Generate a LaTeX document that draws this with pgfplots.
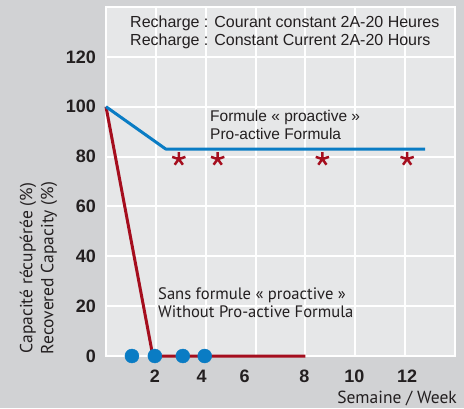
\documentclass[border=0pt]{standalone}
\usepackage{fontspec}
\setmainfont{Liberation Sans}
\newfontfamily\myriad{PT Sans}
\usepackage{pgfplots}
\pgfplotsset{compat=1.18}
\definecolor{bgout}{HTML}{D1D2D4}
\definecolor{bgin}{HTML}{E6E7E8}
\definecolor{cblue}{HTML}{0A7CC4}
\definecolor{cred}{HTML}{A50E1E}
\definecolor{ctext}{HTML}{231F20}
\pgfdeclareplotmark{ast5}{%
  \pgfpathmoveto{\pgfpointorigin}\pgfpathlineto{\pgfpointpolar{90}{\pgfplotmarksize}}%
  \pgfpathmoveto{\pgfpointorigin}\pgfpathlineto{\pgfpointpolar{18}{\pgfplotmarksize}}%
  \pgfpathmoveto{\pgfpointorigin}\pgfpathlineto{\pgfpointpolar{-54}{\pgfplotmarksize}}%
  \pgfpathmoveto{\pgfpointorigin}\pgfpathlineto{\pgfpointpolar{-126}{\pgfplotmarksize}}%
  \pgfpathmoveto{\pgfpointorigin}\pgfpathlineto{\pgfpointpolar{162}{\pgfplotmarksize}}%
  \pgfusepathqstroke}
\begin{document}
\begin{tikzpicture}
\fill[bgout] (0,0) rectangle (464pt,408pt);
\begin{axis}[
  at={(106pt,52pt)}, anchor=south west,
  scale only axis, width=349pt, height=349pt,
  xmin=0, xmax=14, ymin=0, ymax=140,
  clip=false,
  axis background/.style={fill=bgin},
  axis line style={white, line width=2.5pt},
  grid=major,
  major grid style={white, line width=2pt},
  xtick={2,4,...,12}, xticklabels={},
  ytick={0,20,...,120},
  extra x ticks={1.96,3.84,5.56,7.96,9.96,12.08},
  extra x tick labels={2,4,6,8,10,12},
  extra x tick style={grid=none},
  major tick length=0pt,
  /pgf/number format/assume math mode=true,
  tick label style={font=\fontsize{18}{20}\selectfont\bfseries, text=ctext, inner sep=0pt},
  yticklabel style={anchor=east, xshift=-10pt},
  xticklabel style={anchor=north, yshift=-14pt},
]
\addplot[cred, line width=3pt, line join=round] coordinates {(0,100) (1.88,0) (8,0)};
\addplot[cblue, line width=3pt, line join=round] coordinates {(0,100) (2.4,83) (12.8,83)};
\addplot[only marks, mark=*, mark size=7pt, cblue, mark options={draw=none, fill=cblue}] coordinates {(1.04,0) (1.96,0) (3.08,0) (3.96,0)};
\addplot[only marks, mark=ast5, mark size=7pt, cred, mark options={line width=2.5pt}] coordinates {(2.92,79) (4.48,79) (8.68,79) (12.08,79)};
\end{axis}
\begin{scope}[every node/.style={inner sep=0pt, text=ctext}]
\node[anchor=base west, font=\fontsize{16}{18}\selectfont] at (130pt,380.7pt) {Recharge : Courant constant 2A-20 Heures};
\node[anchor=base west, font=\fontsize{16}{18}\selectfont] at (130pt,362.3pt) {Recharge : Constant Current 2A-20 Hours};
\node[anchor=base west, font=\fontsize{15.5}{18}\selectfont] at (210pt,286.3pt) {Formule « proactive »};
\node[anchor=base west, font=\fontsize{15.5}{18}\selectfont] at (210pt,268.3pt) {Pro-active Formula};
\node[anchor=base west, font=\myriad\fontsize{16.6}{20}\selectfont] at (158pt,108.7pt) {Sans formule « proactive »};
\node[anchor=base west, font=\myriad\fontsize{16.6}{20}\selectfont] at (158pt,90.3pt) {Without Pro-active Formula};
\node[anchor=base east, font=\myriad\fontsize{17.5}{20}\selectfont] at (457pt,4.5pt) {Semaine / Week};
\node[anchor=base, rotate=90, font=\myriad\fontsize{17.5}{20}\selectfont] at (32.3pt,140pt) {Capacité récupérée (\%)};
\node[anchor=base, rotate=90, font=\myriad\fontsize{17.5}{20}\selectfont] at (53.3pt,140pt) {Recovered Capacity (\%)};
\end{scope}
\pgfresetboundingbox
\path[use as bounding box] (0,0) rectangle (464pt,408pt);
\end{tikzpicture}
\end{document}
